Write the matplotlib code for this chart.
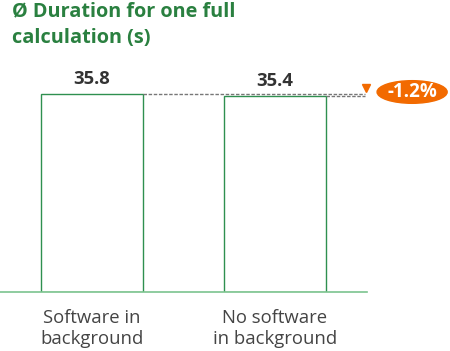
import matplotlib
matplotlib.use("Agg")
from matplotlib import pyplot as plt
from matplotlib.patches import Ellipse

# data
categories = ["Software in\nbackground", "No software\nin background"]
durations = [35.8, 35.4]
change_label = "-1.2%"

plt.rcParams['font.family'] = ['Open Sans', 'DejaVu Sans']

fig = plt.figure(figsize=(4.5, 3.51), dpi=100)
ax = fig.add_axes([0, 59 / 351, 1, 221 / 351])
ax.set_xlim(-0.503, 1.956)
ax.set_ylim(0, 40)
ax.axis('off')

x = [0, 1]
ax.bar(x, durations, width=0.557, color='white', edgecolor='#2f9050', linewidth=1)
ax.plot([-0.503, 1.503], [0, 0], color='#7cc48f', linewidth=1.2, clip_on=False)

# value labels
for xi, v in zip(x, durations):
    ax.text(xi, v + 1.2, f"{v}", ha='center', va='bottom', fontsize=13.3,
            fontweight='bold', color='#333333')

# category labels
for xi, c in zip(x, categories):
    ax.text(xi, -3.0, c, ha='center', va='top', fontsize=13.3, color='#444444',
            linespacing=1.25)

# dashed reference lines to the change marker
ax.plot([0.279, 1.49], [durations[0], durations[0]], ls=(0, (2.5, 1.2)), color='#777777', lw=1)
ax.plot([1.279, 1.49], [durations[1], durations[1]], ls=(0, (2.5, 1.2)), color='#777777', lw=1)
ax.plot([1.497], [36.9], marker='v', color='#f26a00', markersize=6, clip_on=False)

# change badge
ax.add_patch(Ellipse((1.749, 36.2), 0.383, 4.1, color='#f26a00', clip_on=False))
ax.text(1.749, 36.2, change_label, ha='center', va='center', fontsize=13.5,
        fontweight='bold', color='white')

fig.text(12 / 450, 1 - 1 / 351, "Ø Duration for one full\ncalculation (s)", ha='left', va='top',
         fontsize=14.3, fontweight='bold', color='#2a8040', linespacing=1.45)

fig.savefig("out.png", dpi=100)
